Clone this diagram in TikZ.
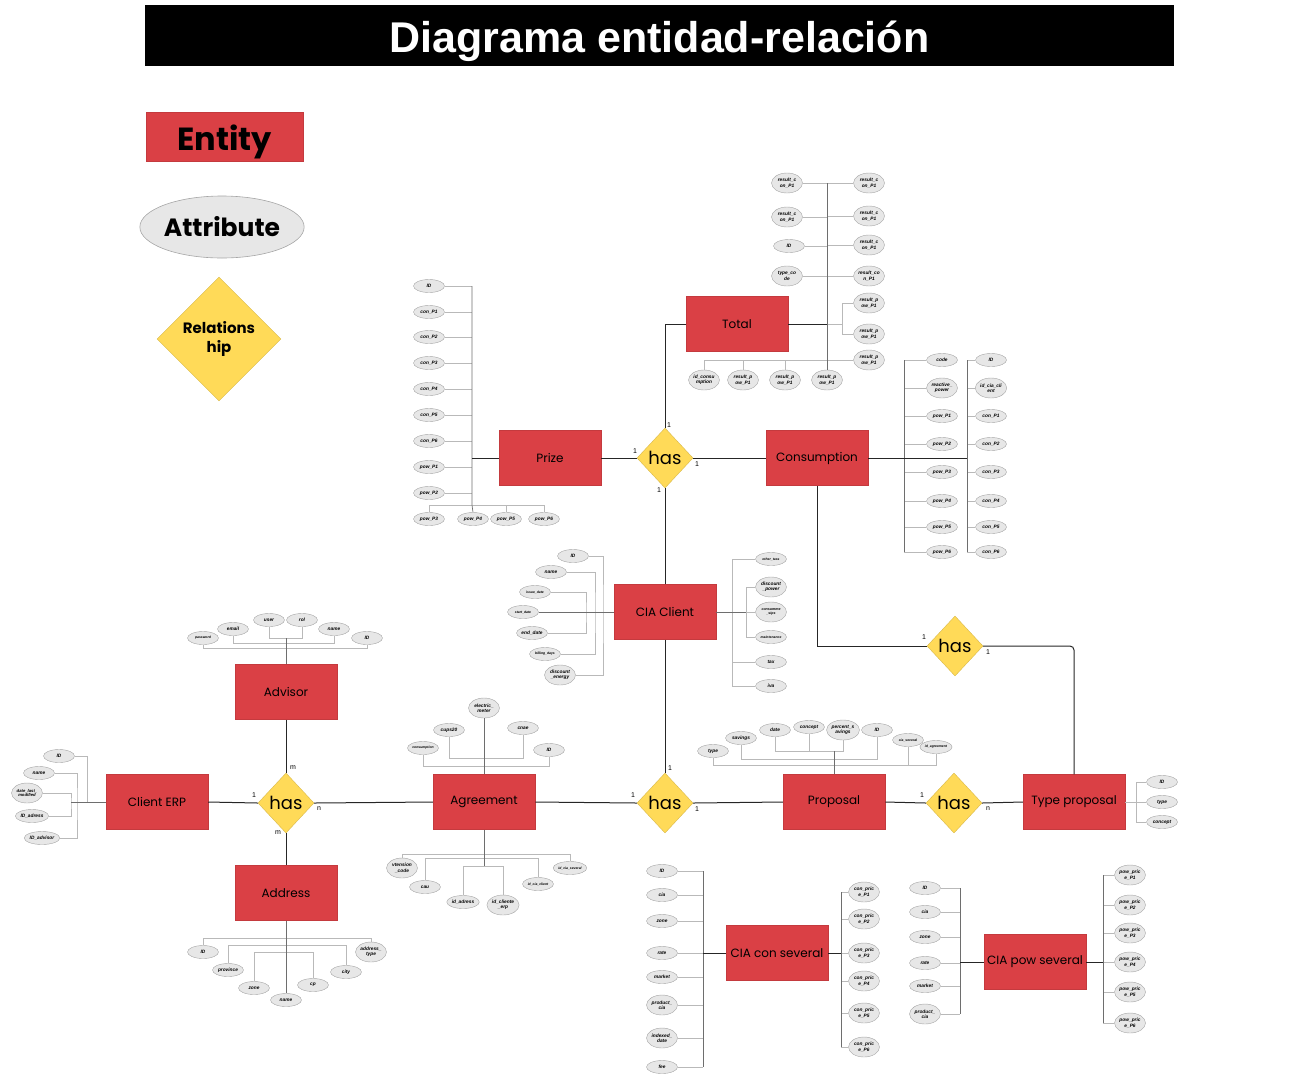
\documentclass[tikz,border=0pt]{standalone}
\usepackage{fontspec}
\setmainfont{Liberation Sans}
\newfontfamily\pop{Poppins}
\usetikzlibrary{shapes.geometric}
\definecolor{erred}{RGB}{218,64,69}
\definecolor{relyel}{RGB}{255,218,88}
\definecolor{attfill}{RGB}{231,231,231}
\definecolor{attline}{RGB}{165,165,165}
\definecolor{busline}{RGB}{110,110,110}
\definecolor{thinline}{RGB}{185,185,185}
\tikzset{
 ent/.style={rectangle, fill=erred, draw=erred!90!black, line width=0.5pt, minimum width=102pt, minimum height=55pt, inner sep=0pt, font=\pop\fontsize{12}{14}\selectfont},
 att/.style={ellipse, fill=attfill, draw=attline, line width=0.4pt, minimum width=31pt, minimum height=13pt, inner sep=0.3pt, align=center, font=\bfseries\itshape\fontsize{4.8}{5.3}\selectfont},
 atw/.style={att, minimum height=20pt},
 atm/.style={att, font=\bfseries\itshape\fontsize{3.4}{4}\selectfont},
 rel/.style={diamond, fill=relyel, draw=relyel!85!black, line width=0.4pt, minimum width=56pt, minimum height=60pt, inner sep=0pt, font=\pop\fontsize{18}{18}\selectfont},
 card/.style={font=\fontsize{7}{7}\selectfont, inner sep=0pt},
 aline/.style={draw=thinline, line width=0.6pt},
 bline/.style={draw=busline, line width=0.7pt},
 mline/.style={draw=black!85, line width=1pt},
}
\begin{document}
\begin{tikzpicture}[x=1pt,y=-1pt]
\useasboundingbox (0,0) rectangle (1297,1080);
% title and legend
\node[rectangle, fill=black, minimum width=1029pt, minimum height=61pt, inner sep=0pt] (titlebox) at (659.5,35.5) {};
\node[inner sep=0pt, text=white, font=\bfseries\fontsize{43}{43}\selectfont, anchor=base] (title) at (659.5,52) {Diagrama entidad-relación};
\node[rectangle, fill=erred, draw=erred!90!black, minimum width=157pt, minimum height=49pt, inner sep=0pt] (legent) at (224.5,136.5) {};
\node[inner sep=0pt, font=\pop\bfseries\fontsize{32}{32}\selectfont, anchor=base] (legenttext) at (224.5,150) {Entity};
\node[ellipse, fill=attfill, draw=attline, line width=0.6pt, minimum width=162pt, minimum height=62pt, inner sep=0pt, font=\pop\bfseries\fontsize{25}{25}\selectfont] (legatt) at (222,227) {Attribute};
\node[diamond, fill=relyel, draw=relyel!85!black, minimum width=124pt, minimum height=124pt, inner sep=0pt, align=center, font=\pop\bfseries\fontsize{15}{19}\selectfont] (legrel) at (219,339) {Relations\\hip};
% entities
\node[ent] (total) at (737,324) {Total};
\node[ent] (prize) at (550,458) {Prize};
\node[ent] (cons) at (817,458) {Consumption};
\node[ent] (client) at (665,612) {CIA Client};
\node[ent] (advisor) at (286,692) {Advisor};
\node[ent] (erp) at (157,802) {Client ERP};
\node[ent] (agree) at (484,802) {Agreement};
\node[ent] (prop) at (834,802) {Proposal};
\node[ent] (tp) at (1074,802) {Type proposal};
\node[ent] (addr) at (286,893) {Address};
\node[ent] (consev) at (777,953) {CIA con several};
\node[ent] (powsev) at (1035,962) {CIA pow several};
% relationships
\node[rel] (d1) at (665,458) {has};
\node[rel] (d2) at (286,803) {has};
\node[rel] (d3) at (665,803) {has};
\node[rel] (d4) at (954,803) {has};
\node[rel] (d5) at (955,646) {has};
% main connectors
\draw[mline] (prize.east) -- (d1.west);
\draw[mline] (d1.east) -- (cons.west);
\draw[mline] (d1.north) |- (total.west);
\draw[mline] (d1.south) -- (client.north);
\draw[mline] (client.south) -- (d3.north);
\draw[mline] (advisor.south) -- (d2.north);
\draw[mline] (erp.east) -- (d2.west);
\draw[mline] (d2.east) -- (agree.west);
\draw[mline] (d2.south) -- (addr.north);
\draw[mline] (agree.east) -- (d3.west);
\draw[mline] (d3.east) -- (prop.west);
\draw[mline] (prop.east) -- (d4.west);
\draw[mline] (d4.east) -- (tp.west);
\draw[mline] (cons.south) |- (d5.west);
\draw[mline, rounded corners=4pt] (d5.east) -| (tp.north);
% cardinalities
\node[card] (c1a) at (635,451) {1};
\node[card] (c1b) at (697,464) {1};
\node[card] (c1c) at (669,425) {1};
\node[card] (c1d) at (659,490) {1};
\node[card] (c2a) at (293,768) {m};
\node[card] (c2b) at (254,795) {1};
\node[card] (c2c) at (319,809) {n};
\node[card] (c2d) at (278,833) {m};
\node[card] (c3a) at (633,795) {1};
\node[card] (c3b) at (697,809) {1};
\node[card] (c3c) at (670,768) {1};
\node[card] (c4a) at (922,795) {1};
\node[card] (c4b) at (988,809) {n};
\node[card] (c5a) at (924,637) {1};
\node[card] (c5b) at (988,652) {1};
% ---------- Total attributes
\coordinate (tbus) at (827,324);
\coordinate (tsub) at (842,324);
\coordinate (trow) at (827,360);
\node[atw] (ta1) at (787,183) {result\_c\\on\_P1};
\node[atw] (ta2) at (787,217) {result\_c\\on\_P1};
\node[att] (ta3) at (789,246) {ID};
\node[atw] (ta4) at (787,276) {type\_co\\de};
\node[atw] (tb1) at (869,183) {result\_c\\on\_P1};
\node[atw] (tb2) at (869,216) {result\_c\\on\_P1};
\node[atw] (tb3) at (869,245) {result\_c\\on\_P1};
\node[atw] (tb4) at (869,276) {result\_co\\n\_P1};
\node[atw] (tb5) at (869,303) {result\_p\\ow\_P1};
\node[atw] (tb6) at (869,334) {result\_p\\ow\_P1};
\node[atw] (tb7) at (869,360) {result\_p\\ow\_P1};
\node[atw] (tc1) at (704,380) {id\_consu\\mption};
\node[atw] (tc2) at (743,380) {result\_p\\ow\_P1};
\node[atw] (tc3) at (785,380) {result\_p\\ow\_P1};
\node[atw] (tc4) at (827,380) {result\_p\\ow\_P1};
\foreach \n in {ta1,ta2,ta3,ta4}{\draw[aline] (\n.east) -- (\n.east -| tbus);}
\foreach \n in {tb1,tb2,tb3,tb4}{\draw[aline] (\n.west) -- (\n.west -| tbus);}
\draw[aline] (tb5.west) -| (tsub) |- (tb6.west);
\draw[aline] (tsub) -- (tbus);
\draw[aline] (tc1.north) |- (tb7.west);
\draw[aline] (tc2.north) -- (tc2.north |- trow);
\draw[aline] (tc3.north) -- (tc3.north |- trow);
\draw[bline] (ta1.east -| tbus) -- (tc4.north);
\draw[mline] (total.east) -- (tbus);
% ---------- Prize attributes
\coordinate (prow) at (472,505);
\node[att] (pa1) at (429,286) {ID};
\node[att] (pa2) at (429,312) {con\_P1};
\node[att] (pa3) at (429,337) {con\_P2};
\node[att] (pa4) at (429,363) {con\_P3};
\node[att] (pa5) at (429,389) {con\_P4};
\node[att] (pa6) at (429,415) {con\_P5};
\node[att] (pa7) at (429,441) {con\_P6};
\node[att] (pa8) at (429,467) {pow\_P1};
\node[att] (pa9) at (429,493) {pow\_P2};
\node[att] (pb1) at (429,519) {pow\_P3};
\node[att] (pb2) at (473,519) {pow\_P4};
\node[att] (pb3) at (506,519) {pow\_P5};
\node[att] (pb4) at (544,519) {pow\_P6};
\foreach \n in {pa1,pa2,pa3,pa4,pa5,pa6,pa7,pa8,pa9}{\draw[aline] (\n.east) -- (\n.east -| prow);}
\draw[aline] (pb1.north) |- (prow) -| (pb4.north);
\draw[aline] (pb3.north) -- (pb3.north |- prow);
\draw[bline] (pa1.east -| prow) -- (prow) -- (pb2.north);
\draw[mline] (prize.west) -- (prize.west -| prow);
% ---------- Consumption attributes
\coordinate (cbus1) at (904,458);
\coordinate (cbus2) at (967,458);
\node[att] (ca1) at (942,360) {code};
\node[atw] (ca2) at (942,388) {reactive\_\\power};
\node[att] (ca3) at (942,416) {pow\_P1};
\node[att] (ca4) at (942,444) {pow\_P2};
\node[att] (ca5) at (942,472) {pow\_P3};
\node[att] (ca6) at (942,501) {pow\_P4};
\node[att] (ca7) at (942,527) {pow\_P5};
\node[att] (ca8) at (942,552) {pow\_P6};
\node[att] (cb1) at (991,360) {ID};
\node[atw] (cb2) at (991,388) {id\_cia\_cli\\ent};
\node[att] (cb3) at (991,416) {con\_P1};
\node[att] (cb4) at (991,444) {con\_P2};
\node[att] (cb5) at (991,472) {con\_P3};
\node[att] (cb6) at (991,501) {con\_P4};
\node[att] (cb7) at (991,527) {con\_P5};
\node[att] (cb8) at (991,552) {con\_P6};
\foreach \n in {ca1,ca2,ca3,ca4,ca5,ca6,ca7,ca8}{\draw[aline] (\n.west) -- (\n.west -| cbus1);}
\foreach \n in {cb1,cb2,cb3,cb4,cb5,cb6,cb7,cb8}{\draw[aline] (\n.west) -- (\n.west -| cbus2);}
\draw[bline] (ca1.west -| cbus1) -- (ca8.west -| cbus1);
\draw[bline] (cb1.west -| cbus2) -- (cb8.west -| cbus2);
\draw[mline] (cons.east) -- (cbus2);
% ---------- CIA Client attributes
\coordinate (lb1) at (603,612);
\coordinate (lb2) at (595,612);
\coordinate (lb3) at (586,612);
\coordinate (rb1) at (732,612);
\coordinate (rb2) at (746,612);
\node[att] (la1) at (573,556) {ID};
\node[att] (la2) at (551,572) {name};
\node[atm] (la3) at (535,592) {issue\_date};
\node[atm] (la4) at (523,612) {start\_date};
\node[att] (la5) at (532,633) {end\_date};
\node[atm] (la6) at (545,654) {billing\_days};
\node[atw] (la7) at (560,675) {discount\\\_energy};
\draw[aline] (la1.east) -| (lb1) |- (la7.east);
\draw[aline] (la2.east) -| (lb2) |- (la6.east);
\draw[aline] (la3.east) -| (lb3) |- (la5.east);
\draw[bline] (la4.east) -- (client.west);
\node[atm] (ra1) at (771,559) {other\_tass};
\node[atw] (ra2) at (771,587) {discount\\\_power};
\node[atw, font=\bfseries\itshape\fontsize{3.6}{4.4}\selectfont] (ra3) at (771,612) {consumme\\\_sips};
\node[atm] (ra4) at (771,637) {maintenance};
\node[att] (ra5) at (771,662) {tax};
\node[att] (ra6) at (771,686) {iva};
\draw[aline] (ra1.west) -| (rb1) |- (ra6.west);
\draw[aline] (ra5.west) -- (ra5.west -| rb1);
\draw[aline] (ra2.west) -| (rb2) |- (ra4.west);
\draw[aline] (ra3.west) -- (rb2);
\draw[bline] (client.east) -- (rb2);
% ---------- Advisor attributes
\coordinate (ab1) at (286,648);
\coordinate (ab2) at (286,643);
\coordinate (ab3) at (286,638);
\node[atm] (aa1) at (203,638) {password};
\node[att] (aa2) at (233,629) {email};
\node[att] (aa3) at (269,620) {user};
\node[att] (aa4) at (302,620) {rol};
\node[att] (aa5) at (334,629) {name};
\node[att] (aa6) at (367,638) {ID};
\draw[aline] (aa1.south) |- (ab1) -| (aa6.south);
\draw[aline] (aa2.south) |- (ab2) -| (aa5.south);
\draw[aline] (aa3.south) |- (ab3) -| (aa4.south);
\draw[bline] (advisor.north) -- (ab3);
% ---------- Client ERP attributes
\coordinate (eb1) at (87,802);
\coordinate (eb2) at (77,802);
\coordinate (eb3) at (71,802);
\node[att] (ea1) at (59,756) {ID};
\node[att] (ea2) at (39,773) {name};
\node[atw, font=\bfseries\itshape\fontsize{4.2}{4.8}\selectfont] (ea3) at (27,793) {date\_last\_\\modified};
\node[att] (ea4) at (32,816) {ID\_adress};
\node[att] (ea5) at (42,838) {ID\_advisor};
\draw[aline] (ea1.east) -| (eb1);
\draw[aline] (ea2.east) -| (eb2) |- (ea5.east);
\draw[aline] (ea3.east) -| (eb3) |- (ea4.east);
\draw[bline] (eb3) -- (erp.west);
% ---------- Agreement attributes
\coordinate (gb1) at (484,766);
\coordinate (gb2) at (484,758);
\coordinate (gd1) at (484,854);
\coordinate (gd2) at (484,858);
\coordinate (gd3) at (484,866);
\node[atm] (ga1) at (423,748) {consumption};
\node[att] (ga2) at (449,730) {cups20};
\node[atw] (ga3) at (484,708) {electric\_\\meter};
\node[att] (ga4) at (523,728) {cnae};
\node[att] (ga5) at (549,750) {ID};
\draw[aline] (ga1.south) |- (gb1) -| (ga5.south);
\draw[aline] (ga2.south) |- (gb2) -| (ga4.south);
\draw[bline] (ga3.south) -- (agree.north);
\node[atw] (gc1) at (402,868) {vtension\\\_code};
\node[att] (gc2) at (425,887) {cau};
\node[att] (gc3) at (463,902) {id\_adress};
\node[atw] (gc4) at (503,905) {id\_cliente\\\_erp};
\node[atm] (gc5) at (538,884) {id\_cia\_client};
\node[atm] (gc6) at (570,868) {id\_cia\_several};
\draw[aline] (gc1.north) |- (gd1) -| (gc6.north);
\draw[aline] (gc2.north) |- (gd2) -| (gc5.north);
\draw[aline] (gc3.north) |- (gd3) -| (gc4.north);
\draw[bline] (agree.south) -- (gd3);
% ---------- Proposal attributes
\coordinate (ob1) at (834,765);
\coordinate (ob2) at (834,759);
\coordinate (ob3) at (834,751);
\node[att] (oa1) at (713,751) {type};
\node[att] (oa2) at (741,738) {savings};
\node[att] (oa3) at (775,730) {date};
\node[att] (oa4) at (809,727) {concept};
\node[atw] (oa5) at (843,730) {percent\_s\\avings};
\node[att] (oa6) at (877,730) {ID};
\node[atm] (oa7) at (908,740) {cia\_several};
\node[atm] (oa8) at (936,747) {id\_agreement};
\draw[aline] (oa1.south) |- (ob1) -| (oa8.south);
\draw[aline] (oa7.south) -- (oa7.south |- ob1);
\draw[aline] (oa2.south) |- (ob2) -| (oa6.south);
\draw[aline] (oa3.south) |- (ob3) -| (oa5.south);
\draw[aline] (oa4.south) -- (oa4.south |- ob3);
\draw[bline] (prop.north) -- (ob3);
% ---------- Address attributes
\coordinate (db1) at (286,938);
\coordinate (db2) at (286,945);
\coordinate (db3) at (286,952);
\node[att] (da1) at (203,952) {ID};
\node[att] (da2) at (228,970) {province};
\node[att] (da3) at (254,988) {zone};
\node[att] (da4) at (286,1000) {name};
\node[att] (da5) at (313,985) {cp};
\node[att] (da6) at (346,972) {city};
\node[atw] (da7) at (371,952) {address\_\\type};
\draw[aline] (da1.north) |- (db1) -| (da7.north);
\draw[aline] (da2.north) |- (db2) -| (da6.north);
\draw[aline] (da3.north) |- (db3) -| (da5.north);
\draw[bline] (addr.south) -- (da4.north);
% ---------- CIA con several attributes
\coordinate (sbus) at (703,953);
\coordinate (sbus2) at (841,953);
\node[att] (sa1) at (662,871) {ID};
\node[att] (sa2) at (662,895) {cia};
\node[att] (sa3) at (662,921) {zone};
\node[att] (sa4) at (662,953) {rate};
\node[att] (sa5) at (662,977) {market};
\node[atw] (sa6) at (662,1005) {product\_\\cia};
\node[atw] (sa7) at (662,1038) {indexed\_\\date};
\node[att] (sa8) at (662,1067) {fee};
\foreach \n in {sa1,sa2,sa3,sa4,sa5,sa6,sa7,sa8}{\draw[aline] (\n.east) -- (\n.east -| sbus);}
\draw[bline] (sa1.east -| sbus) -- (sa8.east -| sbus);
\draw[mline] (consev.west) -- (sbus);
\node[atw] (sb1) at (864,892) {con\_pric\\e\_P1};
\node[atw] (sb2) at (864,919) {con\_pric\\e\_P2};
\node[atw] (sb3) at (864,953) {con\_pric\\e\_P3};
\node[atw] (sb4) at (864,981) {con\_pric\\e\_P4};
\node[atw] (sb5) at (864,1013) {con\_pric\\e\_P5};
\node[atw] (sb6) at (864,1047) {con\_pric\\e\_P6};
\foreach \n in {sb1,sb2,sb3,sb4,sb5,sb6}{\draw[aline] (\n.west) -- (\n.west -| sbus2);}
\draw[bline] (sb1.west -| sbus2) -- (sb6.west -| sbus2);
\draw[mline] (consev.east) -- (sbus2);
% ---------- CIA pow several attributes
\coordinate (wbus) at (960,962);
\coordinate (wbus2) at (1103,962);
\node[att] (wa1) at (925,888) {ID};
\node[att] (wa2) at (925,912) {cia};
\node[att] (wa3) at (925,937) {zone};
\node[att] (wa4) at (925,963) {rate};
\node[att] (wa5) at (925,986) {market};
\node[atw] (wa6) at (925,1014) {product\_\\cia};
\foreach \n in {wa1,wa2,wa3,wa4,wa5,wa6}{\draw[aline] (\n.east) -- (\n.east -| wbus);}
\draw[bline] (wa1.east -| wbus) -- (wa6.east -| wbus);
\draw[mline] (powsev.west) -- (wbus);
\node[atw] (wb1) at (1130,875) {pow\_pric\\e\_P1};
\node[atw] (wb2) at (1130,905) {pow\_pric\\e\_P2};
\node[atw] (wb3) at (1130,933) {pow\_pric\\e\_P3};
\node[atw] (wb4) at (1130,962) {pow\_pric\\e\_P4};
\node[atw] (wb5) at (1130,992) {pow\_pric\\e\_P5};
\node[atw] (wb6) at (1130,1023) {pow\_pric\\e\_P6};
\foreach \n in {wb1,wb2,wb3,wb4,wb5,wb6}{\draw[aline] (\n.west) -- (\n.west -| wbus2);}
\draw[bline] (wb1.west -| wbus2) -- (wb6.west -| wbus2);
\draw[mline] (powsev.east) -- (wbus2);
% ---------- Type proposal attributes
\coordinate (ybus) at (1136,802);
\node[att] (ya1) at (1162,782) {ID};
\node[att] (ya2) at (1162,802) {type};
\node[att] (ya3) at (1162,822) {concept};
\draw[aline] (ya1.west) -| (ybus) |- (ya3.west);
\draw[aline] (ya2.west) -- (tp.east);
\end{tikzpicture}
\end{document}
